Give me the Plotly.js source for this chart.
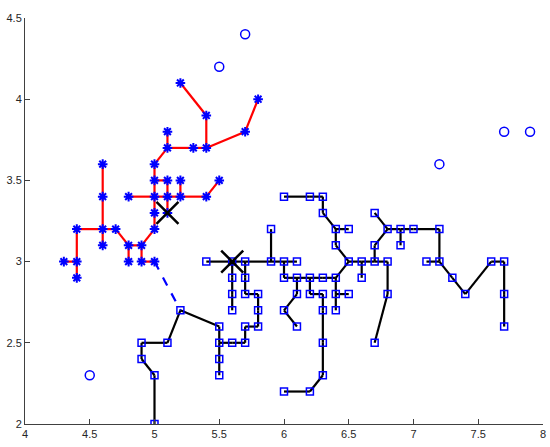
<!DOCTYPE html>
<html>
<head>
<meta charset="utf-8">
<script src="https://cdn.plot.ly/plotly-3.0.1.min.js"></script>
<style>html,body{margin:0;padding:0;background:#fff;}#chart{width:550px;height:447px;}</style>
</head>
<body>
<div id="chart"></div>
<script>
// Cluster 1 (red tree, asterisk markers)
const redX = [4.3,4.4,4.4,4.4,4.6,4.6,4.6,4.6,4.7,4.8,4.8,4.9,4.9,5.0,5.0,5.0,5.0,5.0,5.0,5.1,5.1,5.3,5.4,5.4,5.2,5.7,5.8,5.1,5.2,4.8,5.1,5.2,5.4,5.5,5.1];
const redY = [3.0,3.0,2.9,3.2,3.2,3.1,3.4,3.6,3.2,3.1,3.0,3.1,3.0,3.0,3.2,3.3,3.4,3.5,3.6,3.7,3.8,3.7,3.7,3.9,4.1,3.8,4.0,3.5,3.5,3.4,3.4,3.4,3.4,3.5,3.3];
// red tree edges: [x1, y1, x2, y2]
const redEdges = [
  [4.3,3.0,4.4,3.0],[4.4,3.0,4.4,2.9],[4.4,3.0,4.4,3.2],[4.4,3.2,4.6,3.2],
  [4.6,3.2,4.6,3.1],[4.6,3.2,4.6,3.4],[4.6,3.4,4.6,3.6],[4.6,3.2,4.7,3.2],
  [4.7,3.2,4.8,3.1],[4.8,3.1,4.8,3.0],[4.8,3.1,4.9,3.1],[4.9,3.1,4.9,3.0],
  [4.9,3.0,5.0,3.0],[4.9,3.1,5.0,3.2],[5.0,3.2,5.0,3.3],[5.0,3.3,5.0,3.4],
  [5.0,3.4,5.0,3.5],[5.0,3.5,5.0,3.6],[5.0,3.6,5.1,3.7],[5.1,3.7,5.1,3.8],
  [5.1,3.7,5.3,3.7],[5.3,3.7,5.4,3.7],[5.4,3.7,5.4,3.9],[5.4,3.9,5.2,4.1],
  [5.4,3.7,5.7,3.8],[5.7,3.8,5.8,4.0],[5.0,3.5,5.1,3.5],[5.1,3.5,5.1,3.4],
  [5.2,3.5,5.2,3.4],[4.8,3.4,5.0,3.4],[5.0,3.4,5.1,3.4],[5.1,3.4,5.2,3.4],
  [5.2,3.4,5.4,3.4],[5.4,3.4,5.5,3.5],[5.1,3.4,5.1,3.3]
];
// Cluster 2 (black tree, square markers)
const blackX = [5.2,5.1,4.9,4.9,5.0,5.0,5.5,5.5,5.5,5.5,5.6,5.7,5.7,5.8,5.8,5.8,5.7,5.7,5.7,5.6,5.6,5.6,5.6,5.4,5.9,5.9,6.0,6.1,6.0,6.1,6.2,6.3,6.4,6.1,6.0,6.1,6.2,6.3,6.3,6.3,6.3,6.2,6.0,6.4,6.4,6.5,6.5,6.4,6.4,6.5,6.3,6.3,6.2,6.0,6.6,6.6,6.7,6.8,6.7,6.8,6.7,6.9,6.9,7.0,7.2,7.2,7.1,7.3,7.4,7.6,7.7,7.7,7.7,6.8,6.7];
const blackY = [2.7,2.5,2.5,2.4,2.3,2.0,2.6,2.5,2.4,2.3,2.5,2.5,2.6,2.6,2.7,2.8,2.8,2.9,3.0,3.0,2.9,2.8,2.7,3.0,3.0,3.2,3.0,3.0,2.9,2.9,2.9,2.9,2.9,2.8,2.7,2.6,2.8,2.8,2.7,2.5,2.3,2.2,2.2,2.8,2.7,2.8,3.0,3.1,3.2,3.2,3.3,3.4,3.4,3.4,3.0,2.9,3.0,3.0,3.1,3.2,3.3,3.2,3.1,3.2,3.2,3.0,3.0,2.9,2.8,3.0,3.0,2.8,2.6,2.8,2.5];
const blackEdges = [
  [5.2,2.7,5.5,2.6],[5.2,2.7,5.1,2.5],[5.1,2.5,4.9,2.5],[4.9,2.5,4.9,2.4],
  [4.9,2.4,5.0,2.3],[5.0,2.3,5.0,2.0],[5.5,2.6,5.5,2.5],[5.5,2.5,5.5,2.4],
  [5.5,2.4,5.5,2.3],[5.5,2.5,5.6,2.5],[5.6,2.5,5.7,2.5],[5.7,2.5,5.7,2.6],
  [5.7,2.6,5.8,2.6],[5.8,2.6,5.8,2.7],[5.8,2.7,5.8,2.8],[5.8,2.8,5.7,2.8],
  [5.7,2.8,5.7,2.9],[5.7,2.9,5.7,3.0],[5.6,3.0,5.7,3.0],[5.4,3.0,5.6,3.0],
  [5.6,3.0,5.6,2.9],[5.6,2.9,5.6,2.8],[5.6,2.8,5.6,2.7],[5.7,3.0,5.9,3.0],
  [5.9,3.0,5.9,3.2],[5.9,3.0,6.0,3.0],[6.0,3.0,6.1,3.0],[6.0,3.0,6.0,2.9],
  [6.0,2.9,6.1,2.9],[6.1,2.9,6.2,2.9],[6.2,2.9,6.3,2.9],[6.3,2.9,6.4,2.9],
  [6.1,2.9,6.1,2.8],[6.1,2.8,6.0,2.7],[6.0,2.7,6.1,2.6],[6.2,2.9,6.2,2.8],
  [6.2,2.8,6.3,2.8],[6.3,2.8,6.3,2.7],[6.3,2.7,6.3,2.5],[6.3,2.5,6.3,2.3],
  [6.3,2.3,6.2,2.2],[6.2,2.2,6.0,2.2],[6.4,2.9,6.4,2.8],[6.4,2.8,6.4,2.7],
  [6.4,2.8,6.5,2.8],[6.4,2.9,6.5,3.0],[6.5,3.0,6.4,3.1],[6.4,3.1,6.4,3.2],
  [6.4,3.2,6.5,3.2],[6.4,3.2,6.3,3.3],[6.3,3.3,6.3,3.4],[6.3,3.4,6.2,3.4],
  [6.2,3.4,6.0,3.4],[6.5,3.0,6.6,3.0],[6.6,3.0,6.6,2.9],[6.6,3.0,6.7,3.0],
  [6.7,3.0,6.8,3.0],[6.7,3.0,6.7,3.1],[6.7,3.1,6.8,3.2],[6.8,3.2,6.7,3.3],
  [6.8,3.2,6.9,3.2],[6.9,3.2,6.9,3.1],[6.9,3.2,7.0,3.2],[7.0,3.2,7.2,3.2],
  [7.2,3.2,7.2,3.0],[7.2,3.0,7.1,3.0],[7.2,3.0,7.3,2.9],[7.3,2.9,7.4,2.8],
  [7.4,2.8,7.6,3.0],[7.6,3.0,7.7,3.0],[7.7,3.0,7.7,2.8],[7.7,2.8,7.7,2.6],
  [6.8,3.0,6.8,2.8],[6.8,2.8,6.7,2.5]
];
// Link between the two trees (dashed)
const linkEdge = [[5.0,3.0,5.2,2.7]];
// Outliers
const outX = [5.7,5.5,4.5,7.2,7.7,7.9];
const outY = [4.4,4.2,2.3,3.6,3.8,3.8];
// Cluster centres
const centerX = [5.1,5.6];
const centerY = [3.3,3.0];

function edgeTrace(edges, color, dash) {
  const x = [], y = [];
  edges.forEach(e => { x.push(e[0], e[2], null); y.push(e[1], e[3], null); });
  return {x, y, type:'scatter', mode:'lines', hoverinfo:'skip',
          line:{color, width:2.2, dash: dash || 'solid'}, showlegend:false};
}

const traces = [
  edgeTrace(redEdges, '#ff0000'),
  edgeTrace(blackEdges, '#000000'),
  edgeTrace(linkEdge, '#0000ff', 'dash'),
  {x: redX, y: redY, type:'scatter', mode:'markers', showlegend:false,
   marker:{symbol:'asterisk-open', size:8, color:'#0000ff', line:{color:'#0000ff', width:2}}},
  {x: blackX, y: blackY, type:'scatter', mode:'markers', showlegend:false,
   marker:{symbol:'square-open', size:7, color:'#0000ff', line:{color:'#0000ff', width:1.5}}},
  {x: outX, y: outY, type:'scatter', mode:'markers', showlegend:false,
   marker:{symbol:'circle-open', size:9, color:'#0000ff', line:{color:'#0000ff', width:1.5}}},
  {x: centerX, y: centerY, type:'scatter', mode:'markers', showlegend:false,
   marker:{symbol:'x-thin-open', size:22, color:'#000000', line:{color:'#000000', width:2.5}}}
];

const axisCommon = {
  showgrid:false, zeroline:false, showline:true, linecolor:'#404040', linewidth:1,
  ticks:'inside', ticklen:5, tickwidth:1, tickcolor:'#404040', mirror:false,
  tickfont:{family:'Liberation Sans, Arial, sans-serif', size:11, color:'#262626'}
};

const layout = {
  width:550, height:447,
  margin:{l:25, r:7, t:18, b:23, pad:0},
  paper_bgcolor:'#ffffff', plot_bgcolor:'#ffffff',
  xaxis: Object.assign({}, axisCommon, {range:[4,8], tickvals:[4,4.5,5,5.5,6,6.5,7,7.5,8], ticktext:['4','4.5','5','5.5','6','6.5','7','7.5','8']}),
  yaxis: Object.assign({}, axisCommon, {range:[2,4.5], tickvals:[2,2.5,3,3.5,4,4.5], ticktext:['2','2.5','3','3.5','4','4.5']}),
  showlegend:false
};

Plotly.newPlot('chart', traces, layout, {displayModeBar:false, staticPlot:true});
</script>
</body>
</html>
